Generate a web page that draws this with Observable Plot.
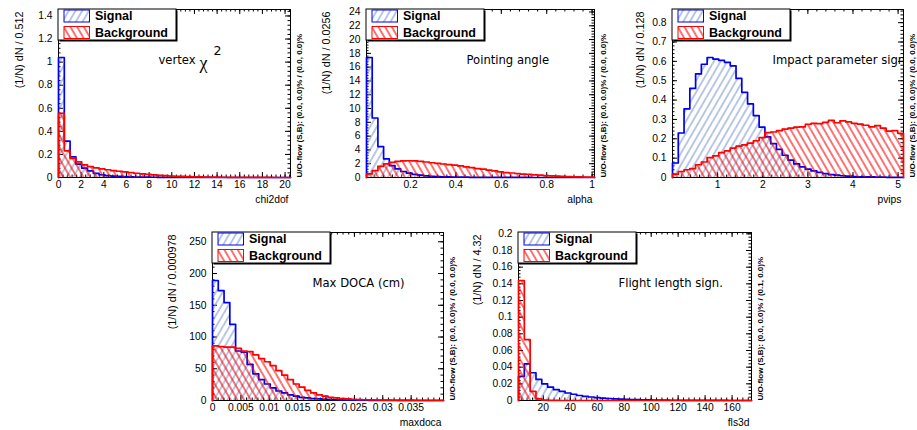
<!DOCTYPE html>
<html><head><meta charset="utf-8">
<script src="https://cdn.jsdelivr.net/npm/d3@7"></script>
<script src="https://cdn.jsdelivr.net/npm/@observablehq/plot@0.6"></script>
<style>
html,body{margin:0;padding:0;background:#fff;}
#page{position:relative;width:917px;height:430px;overflow:hidden;background:#fff;}
</style></head>
<body>
<svg width="0" height="0" style="position:absolute">
<defs>
<pattern id="hatchS" patternUnits="userSpaceOnUse" width="5.8" height="12" patternTransform="rotate(30)">
<line x1="2.9" y1="-1" x2="2.9" y2="13" stroke="#7d99d1" stroke-width="1.1"/>
</pattern>
<pattern id="hatchB" patternUnits="userSpaceOnUse" width="5.8" height="12" patternTransform="rotate(-30)">
<line x1="2.9" y1="-1" x2="2.9" y2="13" stroke="#ff0000" stroke-width="1.1"/>
</pattern>
</defs></svg>
<div id="page"></div>
<script>
// ---------------- data (40 bins per histogram, normalised) ----------------
const chi2Sig = [1.04, 0.315, 0.179, 0.116, 0.081, 0.058, 0.036, 0.024, 0.017, 0.012, 0.009, 0.007, 0.005, 0.004, 0.003, 0.0025, 0.002, 0.0015, 0.001, 0.001, 0.0008, 0.0006, 0.0005, 0.0004, 0.0003, 0.0003, 0.0002, 0.0002, 0.0001, 0.0001, 0, 0, 0, 0, 0, 0, 0, 0, 0, 0];
const chi2Bkg = [0.557, 0.231, 0.165, 0.136, 0.11, 0.095, 0.083, 0.075, 0.067, 0.06, 0.054, 0.048, 0.043, 0.037, 0.032, 0.027, 0.023, 0.019, 0.016, 0.013, 0.011, 0.009, 0.007, 0.006, 0.005, 0.004, 0.003, 0.0025, 0.002, 0.0015, 0.001, 0.001, 0.0008, 0.0006, 0.0005, 0.0004, 0.0003, 0.0002, 0.0002, 0.0001];

const alphaSig = [17.4, 8.63, 4.48, 2.7, 1.73, 1.25, 0.87, 0.62, 0.45, 0.33, 0.25, 0.18, 0.13, 0.1, 0.08, 0.06, 0.05, 0.04, 0.03, 0.025, 0.02, 0.016, 0.013, 0.01, 0.008, 0.007, 0.006, 0.005, 0.004, 0.003, 0.003, 0.002, 0.002, 0.002, 0.001, 0.001, 0.001, 0.001, 0.001, 0.001];
const alphaBkg = [0.52, 1.0, 1.6, 1.98, 2.2, 2.35, 2.42, 2.43, 2.4, 2.34, 2.25, 2.14, 2.05, 1.96, 1.88, 1.78, 1.68, 1.55, 1.42, 1.3, 1.2, 1.06, 0.95, 0.82, 0.72, 0.65, 0.58, 0.5, 0.44, 0.38, 0.33, 0.28, 0.24, 0.2, 0.16, 0.13, 0.1, 0.08, 0.06, 0.05];

const pvipsSig = [0.075, 0.23, 0.355, 0.46, 0.535, 0.585, 0.62, 0.612, 0.605, 0.595, 0.577, 0.512, 0.44, 0.38, 0.32, 0.26, 0.21, 0.175, 0.145, 0.115, 0.09, 0.07, 0.055, 0.043, 0.034, 0.026, 0.02, 0.015, 0.012, 0.009, 0.007, 0.005, 0.004, 0.003, 0.003, 0.002, 0.002, 0.001, 0.001, 0.001];
const pvipsBkg = [0.017, 0.031, 0.04, 0.046, 0.066, 0.08, 0.103, 0.112, 0.129, 0.138, 0.152, 0.162, 0.169, 0.178, 0.19, 0.206, 0.232, 0.235, 0.242, 0.25, 0.255, 0.26, 0.262, 0.275, 0.28, 0.278, 0.285, 0.295, 0.283, 0.293, 0.287, 0.28, 0.276, 0.27, 0.262, 0.268, 0.255, 0.24, 0.242, 0.228];

const docaSig = [189, 173, 154, 120, 78, 76, 57, 42, 33, 26, 20, 15, 12, 9, 7, 5, 4, 3, 2.5, 2, 1.5, 1.2, 1, 0.8, 0.6, 0.5, 0.4, 0.3, 0.3, 0.2, 0.2, 0.1, 0.1, 0.1, 0.1, 0, 0, 0, 0, 0];
const docaBkg = [86, 85, 84, 84, 82, 78, 77, 72, 66, 61, 55, 47, 40, 33, 26, 21, 16, 12, 9, 7, 5, 4, 3, 2.5, 2, 1.5, 1.2, 1, 0.8, 0.6, 0.5, 0.4, 0.3, 0.3, 0.2, 0.2, 0.2, 0.1, 0.1, 0.1];

const flsSig = [0.029, 0.044, 0.0333, 0.0253, 0.02, 0.016, 0.013, 0.011, 0.009, 0.0075, 0.006, 0.005, 0.0042, 0.0035, 0.0029, 0.0024, 0.002, 0.0017, 0.0014, 0.0012, 0.001, 0.0008, 0.0007, 0.0006, 0.0005, 0.0004, 0.0003, 0.0003, 0.0002, 0.0002, 0.0002, 0.0001, 0.0001, 0.0001, 0.0001, 0.0001, 0, 0, 0, 0];
const flsBkg = [0.144, 0.073, 0.011, 0.002, 0.0005, 0.0002, 0.0001, 0, 0, 0, 0, 0, 0, 0, 0, 0, 0, 0, 0, 0, 0, 0, 0, 0, 0, 0, 0, 0, 0, 0, 0, 0, 0, 0, 0, 0, 0, 0, 0, 0];

// histogram ranges
const chi2Range = [0, 20.48];
const alphaRange = [0.006, 1.0105];
const pvipsRange = [0, 5.12];
const docaRange = [0, 0.0407];
const flsRange = [1.6, 174.4];

// tick labels
const chi2XTicks = [0, 2, 4, 6, 8, 10, 12, 14, 16, 18, 20];
const chi2YTicks = [0, 0.2, 0.4, 0.6, 0.8, 1, 1.2, 1.4];
const alphaXTicks = [0.2, 0.4, 0.6, 0.8, 1];
const alphaYTicks = [0, 2, 4, 6, 8, 10, 12, 14, 16, 18, 20, 22, 24];
const pvipsXTicks = [1, 2, 3, 4, 5];
const pvipsYTicks = [0, 0.1, 0.2, 0.3, 0.4, 0.5, 0.6, 0.7, 0.8];
const docaXTicks = [0, 0.005, 0.01, 0.015, 0.02, 0.025, 0.03, 0.035];
const docaYTicks = [0, 50, 100, 150, 200, 250];
const flsXTicks = [20, 40, 60, 80, 100, 120, 140, 160];
const flsYTicks = [0, 0.02, 0.04, 0.06, 0.08, 0.1, 0.12, 0.14, 0.16, 0.18, 0.2];

const xTitles = ["chi2dof", "alpha", "pvips", "maxdoca", "fls3d"];
const yTitles = ["(1/N) dN / 0.512", "(1/N) dN / 0.0256", "(1/N) dN / 0.128", "(1/N) dN / 0.000978", "(1/N) dN / 4.32"];
const panelTitles = ["vertex", "Pointing angle", "Impact parameter sign.", "Max DOCA (cm)", "Flight length sign."];
const uoTexts = [
  "U/O-flow (S,B): (0.0, 0.0)% / (0.0, 0.0)%",
  "U/O-flow (S,B): (0.0, 0.0)% / (0.0, 0.0)%",
  "U/O-flow (S,B): (0.0, 0.0)% / (0.0, 0.0)%",
  "U/O-flow (S,B): (0.0, 0.0)% / (0.0, 0.0)%",
  "U/O-flow (S,B): (0.0, 0.0)% / (0.1, 0.0)%"
];
const legendLabels = ["Signal", "Background"];

// ---------------- layout ----------------
const ML = 60, MT = 9, MR = 24, MB = 40, FH = 168;
const panels = [
  {sig: chi2Sig, bkg: chi2Bkg, range: chi2Range, xt: chi2XTicks, yt: chi2YTicks, xm: 0.4, ym: 0.04, fx: 58, fy: 9, fw: 232, yl: 43},
  {sig: alphaSig, bkg: alphaBkg, range: alphaRange, xt: alphaXTicks, yt: alphaYTicks, xm: 0.04, ym: 0.4, fx: 366, fy: 9, fw: 228, yl: 44},
  {sig: pvipsSig, bkg: pvipsBkg, range: pvipsRange, xt: pvipsXTicks, yt: pvipsYTicks, xm: 0.2, ym: 0.02, fx: 672, fy: 9, fw: 231, yl: 36},
  {sig: docaSig, bkg: docaBkg, range: docaRange, xt: docaXTicks, yt: docaYTicks, xm: 0.001, ym: 10, fx: 212, fy: 232, fw: 231, yl: 44},
  {sig: flsSig, bkg: flsBkg, range: flsRange, xt: flsXTicks, yt: flsYTicks, xm: 4, ym: 0.004, fx: 518, fy: 232, fw: 233, yl: 45}
];

const FONT = "Liberation Sans, Arial, Helvetica, sans-serif";
const TFONT = "DejaVu Sans, sans-serif";

function binRects(range, vals) {
  const w = (range[1] - range[0]) / vals.length;
  return vals.map((v, i) => ({x1: range[0] + i * w, x2: range[0] + (i + 1) * w, y0: 0, y: v}));
}
function binOutline(range, vals) {
  const w = (range[1] - range[0]) / vals.length;
  const pts = [{x: range[0], y: 0}];
  vals.forEach((v, i) => pts.push({x: range[0] + i * w, y: v}));
  pts.push({x: range[1], y: vals[vals.length - 1]});
  pts.push({x: range[1], y: 0});
  return pts;
}
function stepTicks(lo, hi, step) {
  const a = Math.ceil(lo / step - 1e-9), b = Math.floor(hi / step + 1e-9);
  return d3.range(a, b + 1).map(i => +(i * step).toFixed(10));
}

const page = document.getElementById("page");

panels.forEach((p, k) => {
  const ymax = 1.4 * d3.max([...p.sig, ...p.bkg]);
  const xDom = p.range;
  const xMaj = p.xt.filter(v => v >= xDom[0] && v <= xDom[1]);
  const xMin = stepTicks(xDom[0], xDom[1], p.xm);
  const yMaj = p.yt.filter(v => v <= ymax);
  const yMin = stepTicks(0, ymax, p.ym);
  const fw = p.fw;

  const marks = [
    Plot.frame({stroke: "black", strokeWidth: 1}),
    // inside ticks on all four sides
    Plot.tickX(xMaj, {x: d => d, insetTop: FH - 5, stroke: "black"}),
    Plot.tickX(xMin, {x: d => d, insetTop: FH - 2.5, stroke: "black"}),
    Plot.tickX(xMaj, {x: d => d, insetBottom: FH - 5, stroke: "black"}),
    Plot.tickX(xMin, {x: d => d, insetBottom: FH - 2.5, stroke: "black"}),
    Plot.tickY(yMaj, {y: d => d, insetRight: fw - 5, stroke: "black"}),
    Plot.tickY(yMin, {y: d => d, insetRight: fw - 2.5, stroke: "black"}),
    Plot.tickY(yMaj, {y: d => d, insetLeft: fw - 5, stroke: "black"}),
    Plot.tickY(yMin, {y: d => d, insetLeft: fw - 2.5, stroke: "black"}),
    // signal
    Plot.rect(binRects(xDom, p.sig), {x1: "x1", x2: "x2", y1: "y0", y2: "y", fill: "url(#hatchS)"}),
    Plot.line(binOutline(xDom, p.sig), {x: "x", y: "y", curve: "step-after", stroke: "#0000ee", strokeWidth: 1.7}),
    // background
    Plot.rect(binRects(xDom, p.bkg), {x1: "x1", x2: "x2", y1: "y0", y2: "y", fill: "url(#hatchB)"}),
    Plot.line(binOutline(xDom, p.bkg), {x: "x", y: "y", curve: "step-after", stroke: "#ff0000", strokeWidth: 1.7}),
    // titles
    Plot.text([yTitles[k]], {text: d => d, frameAnchor: "top-left", rotate: -90, textAnchor: "end", dx: -p.yl, dy: 2, fontSize: 10.8, fontFamily: FONT}),
    Plot.text([xTitles[k]], {text: d => d, frameAnchor: "bottom-right", textAnchor: "end", dx: -2, dy: 25, fontSize: 10.3, fontFamily: FONT}),
    Plot.text([uoTexts[k]], {text: d => d, frameAnchor: "bottom-right", rotate: -90, textAnchor: "start", dx: 11, dy: 0, fontSize: 8, fontWeight: "bold", fontFamily: FONT}),
    Plot.text([panelTitles[k]], {text: d => d, frameAnchor: "top-left", textAnchor: "start", dx: 100, dy: 46, fontSize: 11.6, fontFamily: TFONT, clip: true})
  ];
  if (k === 0) {
    marks.push(Plot.text(["χ"], {text: d => d, frameAnchor: "top-left", textAnchor: "start", dx: 141, dy: 47, fontSize: 18, fontFamily: "Liberation Serif, serif"}));
    marks.push(Plot.text(["2"], {text: d => d, frameAnchor: "top-left", textAnchor: "start", dx: 155, dy: 37, fontSize: 12.5, fontFamily: TFONT}));
  }

  const svg = Plot.plot({
    width: fw + ML + MR,
    height: FH + MT + MB,
    marginLeft: ML, marginRight: MR, marginTop: MT, marginBottom: MB,
    style: {background: "transparent", fontFamily: FONT, fontSize: "10.3px", color: "black", overflow: "visible"},
    x: {domain: xDom, ticks: xMaj, tickFormat: d3.format("~g"), tickSize: 0, tickPadding: 3, label: null},
    y: {domain: [0, ymax], ticks: yMaj, tickFormat: d3.format("~g"), tickSize: 0, tickPadding: 6, label: null},
    marks
  });

  // legend box (ROOT style with shadow)
  const L = d3.select(svg).append("g").attr("text-anchor", "start");
  const lw = 118, lh = 31;
  L.append("rect").attr("x", ML + 1.5).attr("y", MT + 1.5).attr("width", lw).attr("height", lh).attr("fill", "#000");
  L.append("rect").attr("x", ML).attr("y", MT).attr("width", lw).attr("height", lh).attr("fill", "#fff").attr("stroke", "#000").attr("stroke-width", 1);
  legendLabels.forEach((lab, i) => {
    L.append("rect").attr("x", ML + 6).attr("y", MT + (i ? 17.5 : 1)).attr("width", 25.5).attr("height", 12)
      .attr("fill", i ? "url(#hatchB)" : "url(#hatchS)").attr("stroke", i ? "#ff0000" : "#0000ee").attr("stroke-width", 1);
    L.append("text").attr("x", ML + 37).attr("y", MT + (i ? 23.5 : 6.5)).attr("dy", "0.36em")
      .attr("text-anchor", "start")
      .attr("font-family", FONT).attr("font-weight", "bold").attr("font-size", 12.5).attr("fill", "#000").text(lab);
  });

  svg.style.position = "absolute";
  svg.style.left = (p.fx - ML) + "px";
  svg.style.top = (p.fy - MT) + "px";
  svg.style.maxWidth = "none";
  page.appendChild(svg);
});
</script>
</body></html>
